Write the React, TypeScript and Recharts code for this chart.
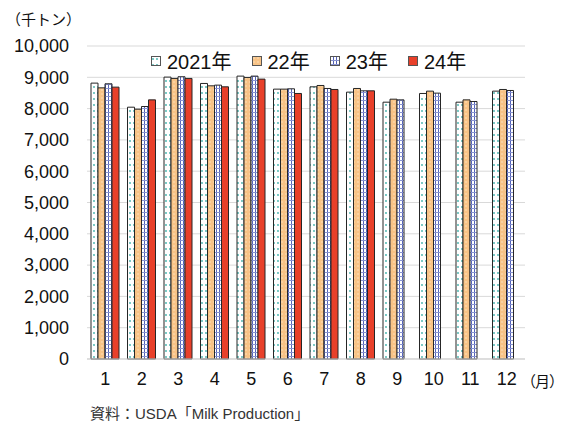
import { BarChart, Bar, XAxis, YAxis, CartesianGrid, Legend } from "recharts";

const months = ["1", "2", "3", "4", "5", "6", "7", "8", "9", "10", "11", "12"];
const y2021 = [8814, 8045, 9006, 8803, 9038, 8622, 8696, 8526, 8205, 8483, 8205, 8558];
const y2022 = [8663, 7981, 8964, 8728, 8996, 8622, 8739, 8643, 8301, 8558, 8279, 8611];
const y2023 = [8792, 8067, 9017, 8750, 9038, 8632, 8643, 8568, 8279, 8494, 8227, 8579];
const y2024 = [8686, 8279, 8964, 8696, 8942, 8483, 8611, 8568, null, null, null, null];
const yTicks = [0, 1000, 2000, 3000, 4000, 5000, 6000, 7000, 8000, 9000, 10000];

const seriesKeys = ["y2021", "y2022", "y2023", "y2024"];
const seriesNames = ["2021年", "22年", "23年", "24年"];
const seriesFills = ["url(#p2021)", "url(#p2022)", "url(#p2023)", "#e8402a"];

const data = months.map((month, i) => ({
  month,
  y2021: y2021[i],
  y2022: y2022[i],
  y2023: y2023[i],
  y2024: y2024[i],
}));

const FONT = "'Liberation Sans', Arial, 'Noto Sans CJK JP', sans-serif";

const Patterns = () => (
  <defs>
    <pattern id="p2021" width="4" height="6" patternUnits="userSpaceOnUse">
      <rect width="4" height="6" fill="#ffffff" />
      <circle cx="2" cy="3" r="0.9" fill="#3fb0aa" />
    </pattern>
    <pattern id="p2022" width="4" height="4" patternUnits="userSpaceOnUse">
      <rect width="4" height="4" fill="#f8c386" />
      <circle cx="2" cy="2" r="0.8" fill="#fde3c2" />
    </pattern>
    <pattern id="p2023" width="3" height="4" patternUnits="userSpaceOnUse">
      <rect width="3" height="4" fill="#ffffff" />
      <rect x="0" y="0" width="1" height="4" fill="#5563b8" />
      <rect x="0" y="0" width="3" height="1" fill="#8893d0" />
    </pattern>
  </defs>
);

const LegendContent = () => (
  <div
    style={{
      display: "flex",
      justifyContent: "flex-start",
      alignItems: "center",
      gap: 20,
      fontFamily: FONT,
      fontSize: 20,
      color: "#111",
      paddingLeft: 151,
    }}
  >
    {seriesNames.map((name, i) => (
      <div key={name} style={{ display: "flex", alignItems: "center", gap: 6 }}>
        <svg width={10} height={10}>
          <rect x={0.5} y={0.5} width={9} height={9} fill={seriesFills[i]} stroke="#555" strokeWidth={1} />
        </svg>
        <span>{name}</span>
      </div>
    ))}
  </div>
);

const App = () => {
  return (
    <div
      style={{
        position: "absolute",
        top: 0,
        left: 0,
        width: 566,
        height: 427,
        background: "#ffffff",
        fontFamily: FONT,
      }}
    >
      <BarChart
        width={566}
        height={427}
        data={data}
        margin={{ top: 46, right: 41, bottom: 38, left: 0 }}
        barGap={0}
        barSize={7}
      >
        <Patterns />
        <CartesianGrid vertical={false} stroke="#d9d9d9" />
        <XAxis
          dataKey="month"
          interval={0}
          height={30}
          axisLine={{ stroke: "#cfcfcf" }}
          tickLine={false}
          tickSize={0}
          tickMargin={13}
          tick={{ fontSize: 18, fill: "#111", fontFamily: FONT }}
        />
        <YAxis
          domain={[0, 10000]}
          ticks={yTicks}
          interval={0}
          tickFormatter={(v: number) => v.toLocaleString("en-US")}
          axisLine={false}
          tickLine={false}
          tickSize={0}
          tickMargin={18}
          width={87}
          tick={{ fontSize: 18, fill: "#111", fontFamily: FONT }}
        />
        <Legend
          verticalAlign="middle"
          content={<LegendContent />}
          wrapperStyle={{ top: 46, left: 0, width: 566 }}
        />
        {seriesKeys.map((key, i) => (
          <Bar
            key={key}
            dataKey={key}
            name={seriesNames[i]}
            fill={seriesFills[i]}
            stroke="#262626"
            strokeWidth={1}
            isAnimationActive={false}
          />
        ))}
      </BarChart>
      <div style={{ position: "absolute", left: 6, top: 8, fontSize: 15, color: "#111", whiteSpace: "nowrap" }}>
        （千トン）
      </div>
      <div
        style={{
          position: "absolute",
          left: 521,
          top: 370,
          fontSize: 15,
          letterSpacing: -1,
          color: "#111",
          whiteSpace: "nowrap",
        }}
      >
        （月）
      </div>
      <div style={{ position: "absolute", left: 90, top: 402, fontSize: 15, color: "#333", whiteSpace: "nowrap" }}>
        資料：USDA「Milk Production」
      </div>
    </div>
  );
};

export default App;
